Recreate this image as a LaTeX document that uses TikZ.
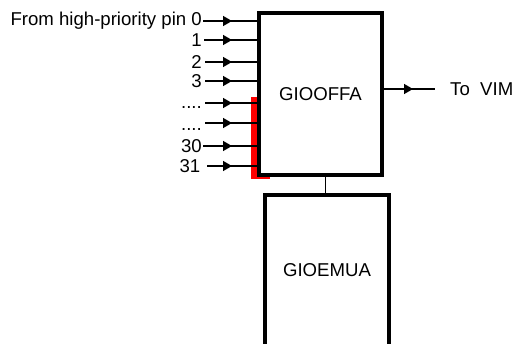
\documentclass[tikz,border=0pt]{standalone}
\usepackage{fontspec}
\setmainfont{Liberation Sans}
\usetikzlibrary{arrows.meta,decorations.markings}
\newcommand\fourdots{.\kern0pt.\kern0pt.\kern0pt.}
\begin{document}
\begin{tikzpicture}[x=1pt,y=-1pt,
  blk/.style={draw,line width=4pt,fill=white,inner sep=0pt,font=\fontsize{18.6}{20}\selectfont},
  lbl/.style={inner sep=0pt,font=\fontsize{18.6}{20}\selectfont},
  sig/.style={line width=1.4pt, postaction={decorate},
    decoration={markings, mark=at position #1 with {\arrow{Triangle[length=9pt,width=10pt]}}}},
  sig/.default=29pt
]
\useasboundingbox (0,0) rectangle (513,343);
\fill[red] (251,97) rectangle (270,179);
\node[blk, minimum width=123pt, minimum height=162.3pt] (off) at (320.5,94.2) {GIOOFFA};
\node[blk, minimum width=123.4pt, minimum height=151pt] (emu) at (327,270.2) {GIOEMUA};
\coordinate (c) at (325,0);
\draw[line width=1pt] (c |- off.south) -- (c |- emu.north);
\foreach \n/\y/\x/\t/\ty/\r in {0/21/203/{From high-priority pin 0}/21/202,
  1/40/204/1/40/202, 2/62/205/2/62/202, 3/81/205/3/81/202,
  4/103/205/{\fourdots}/108/202, 5/123/205/{\fourdots}/130/202,
  6/146/203/30/146/202, 7/166/207/31/166/200.5}{
  \coordinate (s\n) at (\x,\y);
  \node[lbl, anchor=east] (l\n) at (\r,\ty) {\t};
  \pgfmathsetmacro\p{232-\x}
  \draw[sig=\p pt] (s\n) -- (s\n -| off.west);
}
\coordinate (o) at (435,89);
\draw[sig] (off.east |- o) -- (o);
\node[lbl, anchor=west] (vim) at (450,89) {To\ \ VIM};
\end{tikzpicture}
\end{document}
